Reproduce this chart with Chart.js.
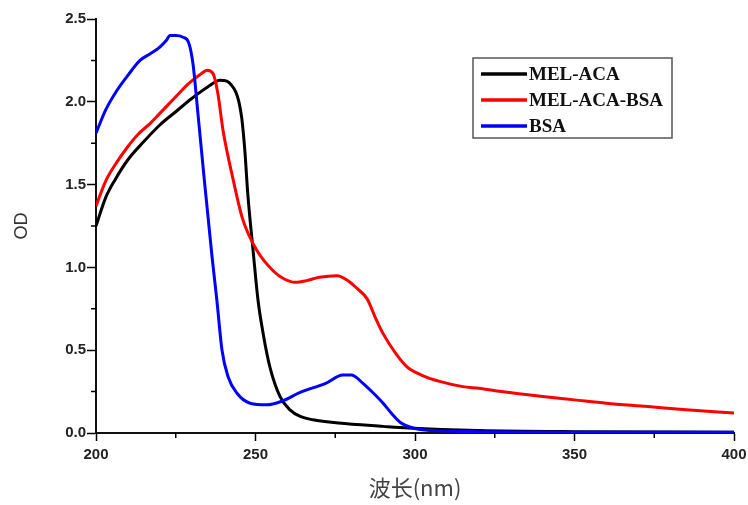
<!DOCTYPE html>
<html>
<head>
<meta charset="utf-8">
<script src="https://cdn.jsdelivr.net/npm/chart.js@4"></script>
<style>
  html, body { margin: 0; padding: 0; background: #fff; }
  #wrap { width: 748px; height: 505px; position: relative; }
</style>
</head>
<body>
<div id="wrap"><canvas id="odChart" width="748" height="505"></canvas></div>
<script>
// wavelength (nm) and OD values
const seriesNames = ['MEL-ACA', 'MEL-ACA-BSA', 'BSA'];
const seriesColors = ['#000000', '#ff0000', '#0000ff'];

const melAcaWl = [200, 203, 206, 210, 215, 220, 225, 230, 235, 238.9, 241, 242.5, 243.8, 244.8, 245.7, 246.6, 247.6, 249.2, 250.8, 252.4, 254.5, 257.7, 260.8, 264, 268, 276, 290, 298, 320, 350, 400];
const melAcaOd = [1.25, 1.42, 1.53, 1.65, 1.76, 1.86, 1.94, 2.02, 2.09, 2.13, 2.125, 2.10, 2.06, 2.0, 1.9, 1.72, 1.44, 1.11, 0.80, 0.60, 0.40, 0.22, 0.14, 0.10, 0.08, 0.06, 0.04, 0.03, 0.015, 0.008, 0.005];

const melAcaBsaWl = [200, 203, 206, 210, 213, 217, 220, 225, 229, 233, 234.8, 236.7, 238.2, 239.8, 243, 246, 250.5, 255.5, 259, 262.4, 266, 270, 275.5, 279, 282, 285, 287.5, 290, 294, 297.5, 302, 308, 315, 320, 327, 340, 350, 360, 373, 385, 400];
const melAcaBsaOd = [1.37, 1.52, 1.62, 1.73, 1.80, 1.87, 1.93, 2.03, 2.11, 2.17, 2.19, 2.17, 2.05, 1.83, 1.53, 1.29, 1.10, 0.98, 0.93, 0.91, 0.92, 0.94, 0.95, 0.92, 0.87, 0.81, 0.70, 0.60, 0.48, 0.40, 0.35, 0.31, 0.28, 0.27, 0.25, 0.22, 0.20, 0.18, 0.16, 0.14, 0.12];

const bsaWl = [200, 203, 206.6, 210, 213.8, 217, 220, 222, 223.2, 225, 227.3, 229, 230.4, 232, 234, 236.4, 237.9, 239.5, 241.4, 244.2, 248.3, 253.6, 258, 264, 272, 277.4, 280, 283.7, 287, 290, 293, 295.3, 299.4, 305, 320, 350, 400];
const bsaOd = [1.81, 1.95, 2.07, 2.16, 2.25, 2.29, 2.33, 2.37, 2.40, 2.40, 2.39, 2.36, 2.23, 1.92, 1.52, 1.06, 0.80, 0.50, 0.34, 0.24, 0.18, 0.17, 0.19, 0.245, 0.30, 0.35, 0.35, 0.30, 0.24, 0.18, 0.11, 0.065, 0.03, 0.015, 0.008, 0.005, 0.005];

const xTicks = [200, 250, 300, 350, 400];
const yTicks = [0.0, 0.5, 1.0, 1.5, 2.0, 2.5];
const xTitle = '波长(nm)';
const yTitle = 'OD';

function toPoints(xs, ys) {
    return xs.map((x, i) => ({ x: x, y: ys[i] }));
}

// short minor ticks between the major ones
const minorTicks = {
    id: 'minorTicks',
    afterDraw(chart) {
        const ctx = chart.ctx;
        const xs = chart.scales.x, ys = chart.scales.y;
        const area = chart.chartArea;
        ctx.save();
        ctx.strokeStyle = '#000';
        ctx.lineWidth = 1.5;
        ctx.beginPath();
        for (let i = 0; i < xTicks.length - 1; i++) {
            const px = xs.getPixelForValue((xTicks[i] + xTicks[i + 1]) / 2);
            ctx.moveTo(px, area.bottom);
            ctx.lineTo(px, area.bottom + 5);
        }
        for (let i = 0; i < yTicks.length - 1; i++) {
            const py = ys.getPixelForValue((yTicks[i] + yTicks[i + 1]) / 2);
            ctx.moveTo(area.left, py);
            ctx.lineTo(area.left - 5, py);
        }
        ctx.stroke();
        ctx.restore();
    }
};

// boxed legend inside the plot, top right
const boxLegend = {
    id: 'boxLegend',
    afterDraw(chart) {
        const ctx = chart.ctx;
        const x0 = 473, y0 = 58, w = 199, h = 80;
        ctx.save();
        ctx.strokeStyle = '#555';
        ctx.lineWidth = 1.5;
        ctx.strokeRect(x0, y0, w, h);
        ctx.font = 'bold 19px "Liberation Serif", "Times New Roman", serif';
        ctx.textBaseline = 'middle';
        ctx.fillStyle = '#111';
        chart.data.datasets.forEach((ds, i) => {
            const y = 74 + i * 26;
            ctx.strokeStyle = ds.borderColor;
            ctx.lineWidth = 3.5;
            ctx.beginPath();
            ctx.moveTo(481, y);
            ctx.lineTo(527, y);
            ctx.stroke();
            ctx.fillText(ds.label, 529, y + 1);
        });
        ctx.restore();
    }
};

const ctx = document.getElementById('odChart').getContext('2d');
const odChart = new Chart(ctx, {
    type: 'line',
    data: {
        datasets: [{
            label: seriesNames[0],
            data: toPoints(melAcaWl, melAcaOd),
            borderColor: seriesColors[0],
            order: 2
        }, {
            label: seriesNames[1],
            data: toPoints(melAcaBsaWl, melAcaBsaOd),
            borderColor: seriesColors[1],
            order: 1
        }, {
            label: seriesNames[2],
            data: toPoints(bsaWl, bsaOd),
            borderColor: seriesColors[2],
            order: 0
        }]
    },
    options: {
        responsive: false,
        animation: false,
        devicePixelRatio: 1,
        layout: { padding: { top: 19, right: 14, left: 0, bottom: 0 } },
        elements: {
            line: { borderWidth: 3, cubicInterpolationMode: 'monotone', fill: false },
            point: { radius: 0 }
        },
        plugins: {
            legend: { display: false },
            tooltip: { enabled: false }
        },
        scales: {
            x: {
                type: 'linear',
                min: 200,
                max: 400,
                afterFit: s => { s.height = 72; s.paddingLeft = 0; s.paddingRight = 0; },
                afterBuildTicks: s => { s.ticks = xTicks.map(v => ({ value: v })); },
                border: { color: '#111', width: 2 },
                grid: { drawOnChartArea: false, tickLength: 8, tickColor: '#000', tickWidth: 1.5 },
                ticks: {
                    color: '#222',
                    padding: 5,
                    maxRotation: 0,
                    font: { family: '"Liberation Sans", Arial, sans-serif', size: 15, weight: 'bold' }
                },
                title: {
                    display: true,
                    text: xTitle,
                    color: '#444',
                    padding: { top: 8 },
                    font: { family: '"Noto Sans CJK SC", sans-serif', size: 22 }
                }
            },
            y: {
                min: 0,
                max: 2.5,
                afterFit: s => { s.width = 96; s.paddingTop = 0; s.paddingBottom = 0; },
                afterBuildTicks: s => { s.ticks = yTicks.map(v => ({ value: v })); },
                border: { color: '#111', width: 2 },
                grid: { drawOnChartArea: false, tickLength: 9, tickColor: '#000', tickWidth: 1.5 },
                ticks: {
                    color: '#222',
                    padding: 1,
                    callback: v => v.toFixed(1),
                    font: { family: '"Liberation Sans", Arial, sans-serif', size: 15, weight: 'bold' }
                },
                title: {
                    display: true,
                    text: yTitle,
                    color: '#333',
                    padding: { top: 11, bottom: 0 },
                    font: { family: '"Liberation Sans", Arial, sans-serif', size: 18 }
                }
            }
        }
    },
    plugins: [minorTicks, boxLegend]
});
</script>
</body>
</html>
